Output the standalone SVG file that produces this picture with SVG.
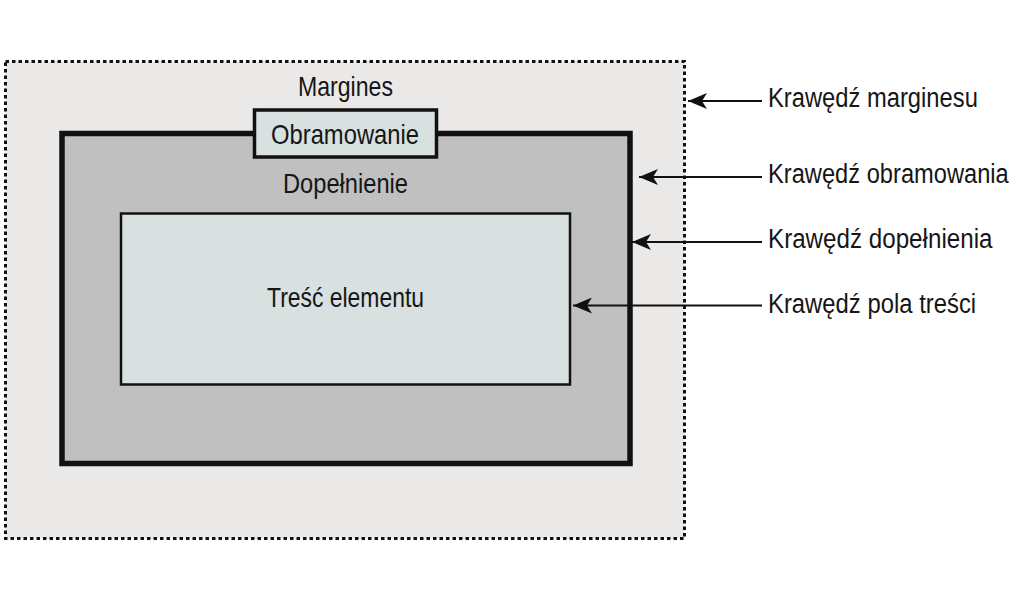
<svg xmlns="http://www.w3.org/2000/svg" width="1020" height="600" viewBox="0 0 1020 600">
<defs>
<marker id="ah" markerUnits="userSpaceOnUse" markerWidth="20" markerHeight="16" refX="19" refY="8" orient="auto">
<path d="M0,0 L19,8 L0,16 L5,8 Z" fill="#111"/>
</marker>
</defs>
<style>
text{font-family:"Liberation Sans","DejaVu Sans",sans-serif;font-size:28px;fill:#161616;}
.c{text-anchor:middle;}
.lbl{text-anchor:start;}
.conn line{stroke:#111;stroke-width:2.2;marker-end:url(#ah);}
</style>
<rect width="1020" height="600" fill="#fff"/>
<g id="margin">
<rect x="5.5" y="61.5" width="679" height="477" fill="#ebe9e7" stroke="#111" stroke-width="3" stroke-dasharray="3.5 3"/>
<text class="c" x="345.5" y="96" textLength="95" lengthAdjust="spacingAndGlyphs">Margines</text>
</g>
<g id="border">
<rect x="62" y="133.5" width="568" height="330" fill="#c0c0c0" stroke="#111" stroke-width="5.5"/>
</g>
<g id="border-label">
<rect x="254.5" y="110" width="182" height="47" fill="#d9e0e0" stroke="#111" stroke-width="3.5"/>
<text class="c" x="345" y="144" textLength="148" lengthAdjust="spacingAndGlyphs">Obramowanie</text>
</g>
<g id="padding">
<text class="c" x="345.5" y="193" textLength="125" lengthAdjust="spacingAndGlyphs">Dopełnienie</text>
</g>
<g id="content">
<rect x="121" y="213.5" width="449" height="171" fill="#d9e0e0" stroke="#111" stroke-width="2.5"/>
<text class="c" x="345.5" y="307" textLength="157" lengthAdjust="spacingAndGlyphs">Treść elementu</text>
</g>
<g id="connectors" class="conn">
<line x1="762" y1="101" x2="688" y2="101"/>
<line x1="762" y1="177" x2="639" y2="177"/>
<line x1="762" y1="242" x2="632" y2="242"/>
<line x1="762" y1="305.5" x2="573" y2="305.5"/>
</g>
<g id="label-margin"><text class="lbl" transform="translate(768,107) scale(0.86,1)" x="0" y="0" textLength="244" lengthAdjust="spacingAndGlyphs">Krawędź marginesu</text></g>
<g id="label-border"><text class="lbl" transform="translate(768,183) scale(0.86,1)" x="0" y="0" textLength="280" lengthAdjust="spacingAndGlyphs">Krawędź obramowania</text></g>
<g id="label-padding"><text class="lbl" transform="translate(768,248) scale(0.86,1)" x="0" y="0" textLength="261" lengthAdjust="spacingAndGlyphs">Krawędź dopełnienia</text></g>
<g id="label-content"><text class="lbl" transform="translate(768,313) scale(0.86,1)" x="0" y="0" textLength="242" lengthAdjust="spacingAndGlyphs">Krawędź pola treści</text></g>
</svg>
